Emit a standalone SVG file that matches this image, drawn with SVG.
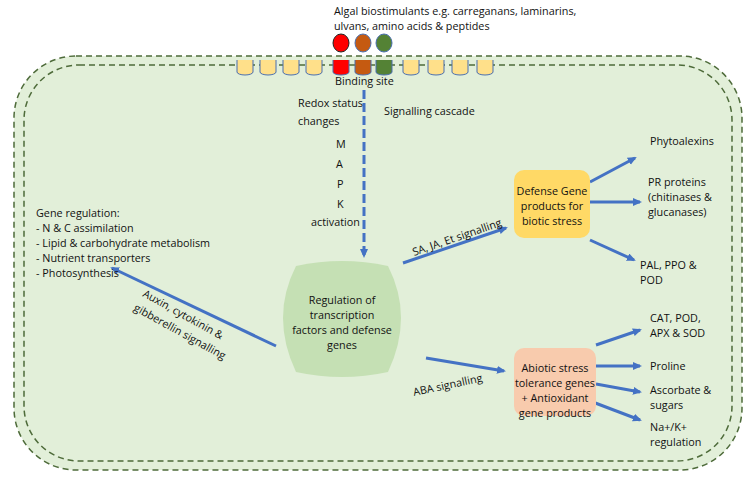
<svg xmlns="http://www.w3.org/2000/svg" width="752" height="481" viewBox="0 0 752 481">
<style>
text{font-family:"Open Sans","Liberation Sans",sans-serif;font-size:10.8px;fill:#111}
.b{stroke:#4472c4;stroke-width:3;fill:none}
.cy{fill:#ffe08a;stroke:#4a6fb0;stroke-width:1}
</style>
<defs>
<marker id="ah" markerWidth="10" markerHeight="10" refX="7" refY="4" orient="auto" markerUnits="userSpaceOnUse"><path d="M0,0L9,4L0,8z" fill="#4472c4"/></marker>
</defs>
<rect x="14" y="56" width="728" height="414" rx="62" fill="#e2efd9" stroke="#4e6b3a" stroke-width="1.5" stroke-dasharray="6,4"/>
<rect x="24" y="65" width="708" height="396" rx="55" fill="none" stroke="#4e6b3a" stroke-width="1.5" stroke-dasharray="6,4"/>
<g id="receptors">
<g class="cy">
<path d="M237,60v12a8,3 0 0 0 16,0v-12"/><path d="M260,60v12a8,3 0 0 0 16,0v-12"/><path d="M283,60v12a8,3 0 0 0 16,0v-12"/><path d="M306,60v12a8,3 0 0 0 16,0v-12"/>
<path d="M403,60v12a8,3 0 0 0 16,0v-12"/><path d="M428,60v12a8,3 0 0 0 16,0v-12"/><path d="M452,60v12a8,3 0 0 0 16,0v-12"/><path d="M477,60v12a8,3 0 0 0 16,0v-12"/>
</g>
<path d="M333,60v12a8,3 0 0 0 16,0v-12" fill="#ff0000" stroke="#4a6fb0"/>
<path d="M355,60v12a8,3 0 0 0 16,0v-12" fill="#c55a11" stroke="#4a6fb0"/>
<path d="M376,60v12a8,3 0 0 0 16,0v-12" fill="#548235" stroke="#4a6fb0"/>
<ellipse cx="341" cy="43" rx="8" ry="9" fill="#ff0000" stroke="#222"/>
<ellipse cx="363" cy="43" rx="8" ry="9" fill="#c55a11" stroke="#4a6fb0"/>
<ellipse cx="384" cy="43" rx="8" ry="9" fill="#548235" stroke="#4a6fb0"/>
<text x="334" y="15">Algal biostimulants e.g. carreganans, laminarins,</text>
<text x="334" y="30">ulvans, amino acids &amp; peptides</text>
<text x="335" y="85">Binding site</text>
</g>
<g id="connectors">
<path class="b" d="M364,90V256" stroke-dasharray="9,4" marker-end="url(#ah)"/>
<path class="b" d="M403,263L506,228" marker-end="url(#ah)"/>
<path class="b" d="M276,346L112,268" marker-end="url(#ah)"/>
<path class="b" d="M426,358L504,371" marker-end="url(#ah)"/>
<path class="b" d="M590,182L635,158" marker-end="url(#ah)"/>
<path class="b" d="M590,202L640,202" marker-end="url(#ah)"/>
<path class="b" d="M590,240L634,260" marker-end="url(#ah)"/>
<path class="b" d="M596,345L640,330" marker-end="url(#ah)"/>
<path class="b" d="M596,366L640,366" marker-end="url(#ah)"/>
<path class="b" d="M596,384L640,392" marker-end="url(#ah)"/>
<path class="b" d="M590,401L640,420" marker-end="url(#ah)"/>
</g>
<text x="298" y="107">Redox status</text><text x="298" y="125">changes</text>
<text x="384" y="115">Signalling cascade</text>
<text x="336" y="148">M</text><text x="336" y="168">A</text><text x="337" y="188">P</text><text x="337" y="208">K</text>
<text x="311" y="226">activation</text>
<text x="414" y="256" transform="rotate(-19 414 256)">SA, JA, Et signalling</text>
<text x="414" y="396" transform="rotate(-12 414 396)">ABA signalling</text>
<text x="142" y="296" transform="rotate(29 142 296)">Auxin, cytokinin &amp;</text>
<text x="133" y="310" transform="rotate(29 133 310)">gibberellin signalling</text>
<g id="gene-reg">
<text x="36" y="217">Gene regulation:</text>
<text x="36" y="232">- N &amp; C assimilation</text>
<text x="36" y="247">- Lipid &amp; carbohydrate metabolism</text>
<text x="36" y="262">- Nutrient transporters</text>
<text x="36" y="277">- Photosynthesis</text>
</g>
<g id="tf">
<path d="M296,266Q342,256 388,266Q414,317 388,372Q342,382 296,372Q270,317 296,266Z" fill="#c5e0b4"/>
<text x="342" y="304" text-anchor="middle">Regulation of</text>
<text x="342" y="319" text-anchor="middle">transcription</text>
<text x="342" y="334" text-anchor="middle">factors and defense</text>
<text x="342" y="349" text-anchor="middle">genes</text>
</g>
<g id="defense">
<rect x="514" y="170" width="76" height="68" rx="10" fill="#ffd966"/>
<text x="552" y="195" text-anchor="middle">Defense Gene</text>
<text x="552" y="210" text-anchor="middle">products for</text>
<text x="552" y="225" text-anchor="middle">biotic stress</text>
</g>
<g id="abiotic">
<rect x="514" y="348" width="82" height="68" rx="10" fill="#f8cbad"/>
<text x="555" y="372" text-anchor="middle">Abiotic stress</text>
<text x="555" y="387" text-anchor="middle">tolerance genes</text>
<text x="555" y="402" text-anchor="middle">+ Antioxidant</text>
<text x="555" y="417" text-anchor="middle">gene products</text>
</g>
<text x="650" y="145">Phytoalexins</text>
<text x="648" y="186">PR proteins</text><text x="648" y="201">(chitinases &amp;</text><text x="648" y="216">glucanases)</text>
<text x="640" y="269">PAL, PPO &amp;</text><text x="640" y="284">POD</text>
<text x="650" y="322">CAT, POD,</text><text x="650" y="337">APX &amp; SOD</text>
<text x="650" y="370">Proline</text>
<text x="650" y="394">Ascorbate &amp;</text><text x="650" y="409">sugars</text>
<text x="650" y="431">Na+/K+</text><text x="650" y="446">regulation</text>
</svg>
